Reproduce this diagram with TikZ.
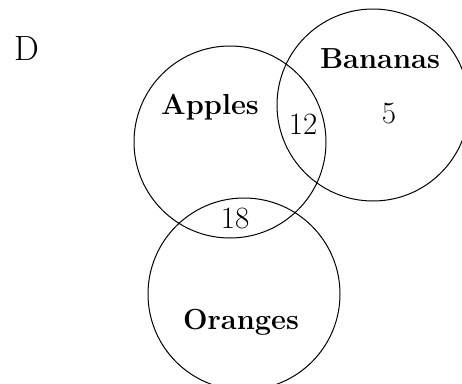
\documentclass[tikz,border=0pt]{standalone}
\usepackage{fontspec}
\begin{document}
\begin{tikzpicture}[x=1pt,y=-1pt,
  setcircle/.style={circle,draw,line width=1pt,minimum size=192pt,inner sep=0pt},
  setname/.style={font=\fontsize{29}{29}\selectfont\bfseries,inner sep=0pt},
  count/.style={font=\fontsize{31}{31}\selectfont,inner sep=0pt}]
  \useasboundingbox (0,0) rectangle (462,383);
  \clip (0,0) rectangle (462,383);
  % the three sets
  \node[setcircle] (apples) at (230,142) {};
  \node[setcircle] (bananas) at (373,105) {};
  \node[setcircle] (oranges) at (244,294) {};
  % labels
  \node[font=\fontsize{35}{35}\selectfont,inner sep=0pt] (tag) at (27,49) {D};
  \node[setname] (applesname) at (210,107) {Apples};
  \node[setname] (bananasname) at (380,59) {Bananas};
  \node[setname] (orangesname) at (241,322) {Oranges};
  \node[count] (ab) at (303,124) {12};
  \node[count] (bonly) at (389,114) {5};
  \node[count] (ao) at (235,218) {18};
\end{tikzpicture}
\end{document}
